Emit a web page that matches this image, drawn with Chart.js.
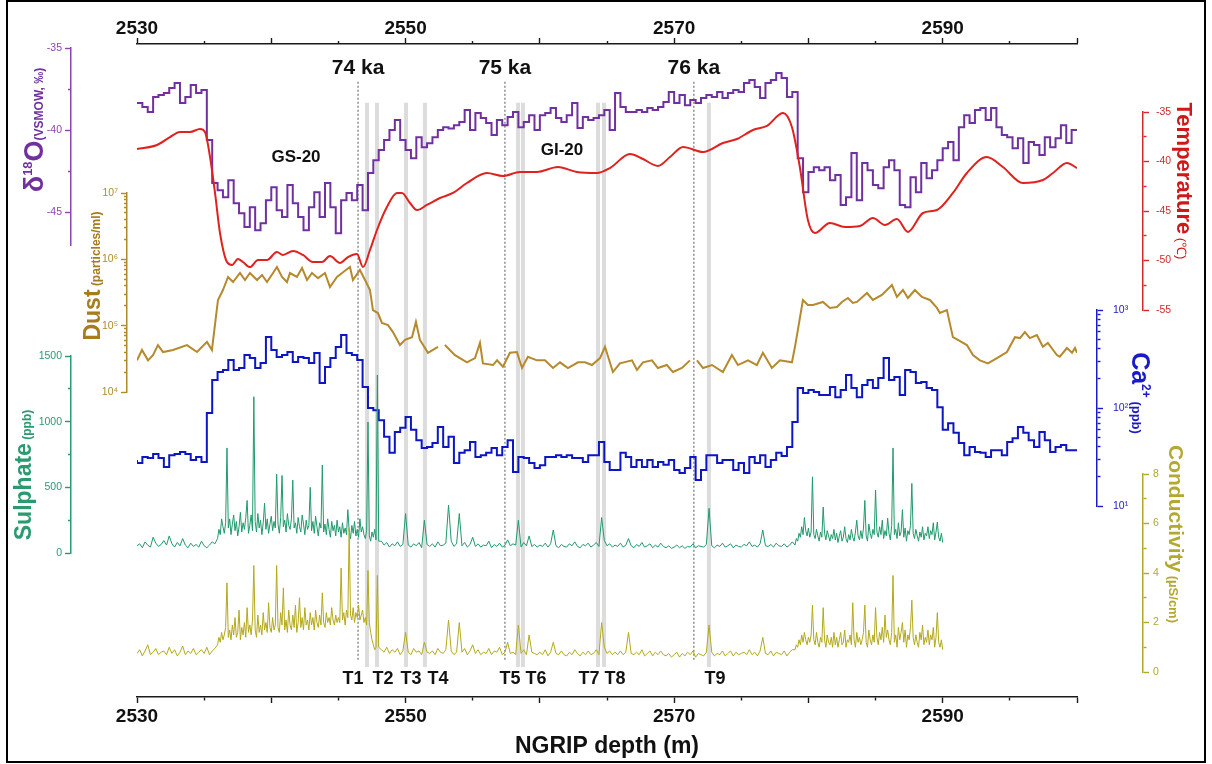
<!DOCTYPE html>
<html>
<head>
<meta charset="utf-8">
<script src="https://cdn.jsdelivr.net/npm/chart.js@4.4.1/dist/chart.umd.min.js"></script>
<style>
  html, body { margin: 0; padding: 0; background: #fff; }
  #wrap { position: relative; width: 1212px; height: 764px; overflow: hidden; background: #fff; }
  #wrap canvas { position: absolute; left: 0; top: 0; }
  #frame { position: absolute; left: 6px; top: 0; width: 1200px; height: 763px; border: 2px solid #000; box-sizing: border-box; pointer-events: none; }
</style>
</head>
<body>
<div id="wrap">
  <canvas id="base" width="1212" height="764"></canvas>
  <canvas id="pD18O" width="1212" height="764"></canvas>
  <canvas id="pTemp" width="1212" height="764"></canvas>
  <canvas id="pDust" width="1212" height="764"></canvas>
  <canvas id="pCa" width="1212" height="764"></canvas>
  <canvas id="pSulphate" width="1212" height="764"></canvas>
  <canvas id="pCond" width="1212" height="764"></canvas>
  <div id="frame"></div>
</div>
<script>
const W = 1212, H = 764;
const PLOT_L = 137, PLOT_R = 1077;
const DEPTH_MIN = 2530, DEPTH_MAX = 2600;
const FONT = "'Liberation Sans', Arial, Helvetica, sans-serif";
Chart.defaults.font.family = FONT;

// δ18O, 0.4 m samples from 2530 m
const D18O_START = 2530, D18O_STEP = 0.4;
const d18O = [
  -38.35, -38.35, -38.6, -38.9, -37.99, -37.87, -37.74, -37.44, -37.13, -38.35,
  -37.99, -37.26, -37.74, -37.56, -40.6, -43.23, -43.66, -44.09, -43.05, -44.45,
  -45.06, -45.91, -44.7, -46.1, -45.67, -44.27, -43.48, -44.88, -45.3, -43.35,
  -44.45, -45.3, -46.1, -44.7, -43.78, -45.3, -43.23, -44.7, -46.28, -44.27,
  -43.84, -44.27, -43.35, -44.88, -42.62, -41.83, -41.22, -40.61, -40.0, -39.39,
  -40.61, -41.22, -41.71, -40.43, -41.04, -40.8, -40.43, -40.0, -39.82, -39.9,
  -39.7, -39.51, -38.78, -40.0, -38.96, -39.27, -39.57, -40.3, -39.39, -39.7,
  -39.21, -38.9, -39.82, -39.51, -39.09, -40.0, -39.09, -38.96, -38.66, -39.27,
  -39.51, -39.09, -38.35, -39.88, -39.21, -39.39, -39.27, -39.09, -38.78, -40.0,
  -37.74, -38.6, -38.9, -38.9, -38.78, -38.9, -38.66, -38.78, -38.6, -38.29,
  -37.68, -38.35, -37.87, -38.48, -38.17, -38.35, -38.05, -37.87, -37.99, -37.68,
  -38.05, -37.74, -37.56, -37.68, -37.13, -36.95, -37.38, -38.05, -37.13, -36.95,
  -36.52, -36.83, -37.99, -37.68, -41.71, -43.78, -42.56, -42.26, -42.44, -42.26,
  -43.05, -42.74, -44.57, -44.09, -41.4, -44.27, -42.01, -42.44, -43.35, -43.54,
  -42.26, -41.83, -42.44, -44.57, -44.7, -42.87, -43.78, -42.01, -42.93, -42.44,
  -41.83, -41.1, -40.73, -41.83, -39.82, -39.09, -39.57, -38.78, -38.66, -39.39,
  -38.66, -39.82, -40.3, -40.43, -41.1, -40.49, -42.01, -40.73, -40.91, -41.52,
  -40.43, -41.04, -40.49, -39.7, -40.79, -40.0
];

// Ca2+ (ppb) on the same 0.4 m grid
const ca = [
  29.5, 27.5, 31.6, 30.9, 34.0, 30.9, 25.0, 33.0, 34.0, 35.6,
  34.0, 29.5, 31.6, 28.1, 89.1, 193, 233, 244, 309, 244,
  256, 347, 324, 256, 288, 530, 391, 331, 347, 373,
  295, 331, 324, 288, 364, 180, 262, 324, 419, 556,
  364, 347, 309, 164, 100, 95, 75, 51, 35, 57,
  63, 81, 60, 47, 39, 40, 44, 64, 40, 51,
  27.5, 35, 37, 45, 31.6, 33, 35, 39, 33, 40,
  47, 22.2, 31.6, 30.9, 27.5, 24.4, 26, 31.6, 31.6, 33,
  31.6, 33, 30.9, 30.9, 28.1, 33, 33, 45, 28.1, 23.3,
  23.3, 35, 31.6, 25, 29.5, 25, 29.5, 25, 28.1, 26.3,
  29.5, 23.3, 21.7, 24.4, 31.6, 18.4, 23.3, 33, 33, 27.5,
  29.5, 29.5, 23.3, 27.5, 21.7, 31.6, 27.5, 33, 25, 29.5,
  35, 32.4, 40, 72, 160, 142, 153, 146, 136, 136,
  164, 129, 153, 217, 160, 129, 172, 193, 160, 202,
  324, 193, 207, 136, 244, 233, 180, 184, 160, 153,
  102, 60, 70, 56, 44, 33, 40, 35.6, 35, 31.6,
  37, 37, 33, 45, 49, 64, 56, 47, 40, 57,
  47, 35.6, 40, 42, 37, 37
];

// Reconstructed temperature (°C)
const tempDepth = [
  2530.0, 2531.49, 2532.46, 2533.2, 2533.95, 2534.69, 2535.06, 2535.44, 2535.81, 2536.18,
  2536.7, 2537.07, 2537.52, 2537.89, 2538.41, 2539.01, 2539.68, 2540.42, 2540.87, 2541.62,
  2542.36, 2543.1, 2543.78, 2544.37, 2545.12, 2545.71, 2546.38, 2546.83, 2547.35, 2547.87,
  2548.61, 2549.36, 2549.73, 2550.33, 2550.85, 2551.59, 2552.56, 2553.53, 2554.57, 2556.06,
  2557.25, 2558.52, 2559.78, 2561.35, 2562.76, 2564.25, 2565.22, 2566.71, 2567.68, 2568.79,
  2569.69, 2570.66, 2572.15, 2573.63, 2574.68, 2575.87, 2576.91, 2578.1, 2578.77, 2579.36,
  2579.96, 2580.48, 2581.6, 2582.72, 2583.83, 2584.8, 2585.7, 2586.59, 2587.41, 2588.53,
  2589.57, 2590.76, 2591.8, 2593.29, 2594.48, 2595.97, 2597.46, 2598.21, 2599.25, 2600.0
];
const temp = [
  -38.74, -38.33, -37.53, -37.02, -37.02, -36.72, -37.02, -39.55, -43.18, -47.22,
  -50.15, -50.45, -49.85, -50.15, -50.66, -49.95, -49.95, -49.14, -49.44, -49.04,
  -49.44, -50.15, -50.15, -49.55, -50.25, -49.65, -49.34, -50.66, -48.94, -46.92,
  -44.6, -43.18, -43.18, -44.19, -44.9, -44.39, -43.69, -43.18, -42.17, -41.16,
  -41.46, -41.06, -41.06, -40.56, -41.06, -41.16, -40.66, -39.24, -39.75, -40.45,
  -39.55, -38.54, -39.04, -38.13, -37.73, -36.82, -36.41, -35.1, -36.52, -40.56,
  -45.91, -47.22, -46.21, -46.62, -46.52, -45.71, -46.41, -45.81, -47.12, -45.2,
  -44.9, -43.18, -41.16, -39.55, -40.56, -42.17, -41.87, -41.16, -40.15, -40.66
];

// Dust (particles/ml); null marks a break in the record
const dustDepth = [
  2530.0, 2530.37, 2530.82, 2531.19, 2531.56, 2531.94, 2532.68, 2533.72, 2534.47, 2535.21,
  2535.58, 2536.03, 2536.4, 2536.78, 2537.15, 2537.67, 2538.04, 2538.41, 2538.94, 2539.31,
  2539.68, 2540.13, 2540.42, 2540.8, 2541.17, 2541.39, 2541.91, 2542.29, 2542.66, 2543.03,
  2543.48, 2544.0, 2544.37, 2544.89, 2545.34, 2545.86, 2546.08, 2546.6, 2546.98, 2547.35,
  2547.57, 2547.94, 2548.24, 2548.69, 2549.06, 2549.58, 2549.96, 2550.48, 2550.77, 2551.07,
  2551.67, 2552.41, 2552.6, 2552.93, 2553.68, 2554.57, 2555.17, 2555.54, 2555.76, 2556.51,
  2556.81, 2557.25, 2557.77, 2558.29, 2558.67, 2559.11, 2559.78, 2560.38, 2560.98, 2561.5,
  2562.09, 2562.84, 2563.36, 2563.88, 2564.48, 2564.85, 2565.44, 2565.96, 2566.86, 2567.23,
  2567.68, 2568.35, 2568.79, 2569.46, 2569.91, 2570.58, 2571.18, 2571.4, 2571.7, 2572.15,
  2572.82, 2573.63, 2574.3, 2574.75, 2575.5, 2576.16, 2576.61, 2577.28, 2577.88, 2578.77,
  2579.0, 2579.59, 2579.96, 2580.34, 2581.08, 2581.6, 2582.12, 2582.5, 2582.94, 2583.31,
  2583.61, 2584.36, 2584.8, 2585.47, 2586.22, 2586.59, 2587.04, 2587.41, 2587.93, 2588.45,
  2589.05, 2589.57, 2589.79, 2590.31, 2590.76, 2591.13, 2591.8, 2592.25, 2592.77, 2593.37,
  2594.04, 2594.78, 2595.38, 2595.75, 2596.12, 2596.49, 2597.01, 2597.46, 2597.83, 2598.5,
  2598.72, 2599.25, 2599.63, 2599.85, 2600.0
];
const dust = [
  3.0e4, 4.3e4, 3.0e4, 3.6e4, 5.1e4, 4.0e4, 4.3e4, 5.1e4, 4.0e4, 5.7e4,
  4.3e4, 2.44e5, 3.45e5, 5.42e5, 4.55e5, 6.22e5, 4.88e5, 6.22e5, 4.88e5, 5.8e5,
  4.55e5, 6.22e5, 7.65e5, 5.42e5, 4.55e5, 6.22e5, 5.42e5, 7.4e5, 4.88e5, 6.22e5,
  5.2e5, 6.22e5, 3.83e5, 5.42e5, 6.4e5, 7.65e5, 4.88e5, 6.9e5, 4.88e5, 3.45e5,
  1.72e5, 1.55e5, 1.1e5, 1.02e5, 8.0e4, 5.1e4, 6.1e4, 6.7e4, 1.14e5, 6.1e4,
  3.9e4, 4.8e4, null, 5.1e4, 3.6e4, 2.8e4, 3.25e4, 5.5e4, 2.7e4, 2.55e4,
  3.0e4, 2.4e4, 3.9e4, 4.0e4, 2.3e4, 3.4e4, 3.0e4, 3.0e4, 2.3e4, 2.8e4,
  2.3e4, 2.8e4, 2.8e4, 2.55e4, 3.25e4, 4.8e4, 2.0e4, 2.7e4, 3.0e4, 2.15e4,
  2.8e4, 3.0e4, 2.3e4, 2.55e4, 2.0e4, 2.3e4, 3.0e4, null, 3.0e4, 2.3e4,
  2.55e4, 2.0e4, 3.6e4, 2.55e4, 3.0e4, 2.55e4, 3.9e4, 2.3e4, 3.0e4, 2.8e4,
  4.8e4, 2.44e5, 2.05e5, 2.05e5, 2.28e5, 1.85e5, 1.91e5, 2.28e5, 2.61e5, 2.2e5,
  2.28e5, 3.11e5, 2.44e5, 2.9e5, 4.1e5, 2.71e5, 3.45e5, 2.61e5, 3.45e5, 2.71e5,
  2.44e5, 1.85e5, 1.55e5, 1.72e5, 6.7e4, 6.1e4, 5.1e4, 3.6e4, 3.0e4, 2.7e4,
  3.25e4, 4.0e4, 6.7e4, 6.5e4, 8.0e4, 6.5e4, 7.2e4, 4.8e4, 5.5e4, 3.6e4,
  3.4e4, 4.6e4, 3.9e4, 4.6e4, 3.9e4
];

// CFA sulphate (ppb) and conductivity (µS/cm), 2530–2590 m.
// Stadial sections were measured at 0.1 m, the rest at 0.2 m.
const cfaSections = [
  {start: 2530, step: 0.2},
  {start: 2536, step: 0.1},
  {start: 2548, step: 0.2},
  {start: 2579, step: 0.1}
];
const sulphateA = [
  55, 70, 40, 85, 60, 45, 120, 75, 50, 65,
  95, 60, 130, 70, 45, 80, 55, 110, 60, 40,
  75, 50, 65, 45, 90, 55, 40, 60, 85, 70
];
const sulphateB = [
  110, 180, 140, 260, 200, 150, 230, 800, 190, 260,
  140, 220, 290, 170, 240, 130, 200, 310, 160, 230,
  180, 270, 400, 150, 210, 290, 170, 1190, 240, 160,
  300, 190, 250, 140, 230, 380, 180, 260, 150, 220,
  280, 170, 240, 190, 600, 220, 150, 270, 590, 200,
  250, 160, 300, 210, 180, 260, 555, 190, 230, 150,
  270, 200, 160, 290, 220, 140, 250, 180, 210, 500,
  170, 240, 150, 280, 200, 130, 230, 190, 670, 160,
  220, 140, 260, 180, 120, 240, 170, 210, 130, 250,
  160, 200, 120, 230, 150, 190, 140, 330, 170, 110,
  210, 150, 240, 130, 180, 120, 260, 160, 200, 140,
  110, 170, 997, 130, 90, 160, 120, 180, 100, 1355
];
const sulphateC = [
  90, 90, 60, 80, 45, 70, 55, 85, 50, 65,
  300, 60, 45, 70, 55, 80, 40, 250, 65, 50,
  70, 45, 85, 55, 60, 75, 365, 90, 50, 70,
  300, 55, 80, 45, 65, 120, 50, 70, 45, 60,
  55, 90, 40, 65, 50, 75, 45, 60, 100, 55,
  70, 60, 250, 45, 80, 55, 130, 50, 65, 45,
  60, 50, 75, 45, 70, 175, 55, 40, 65, 50,
  45, 70, 55, 85, 50, 40, 65, 55, 75, 45,
  60, 80, 50, 270, 95, 55, 70, 45, 60, 50,
  75, 45, 60, 110, 55, 40, 65, 50, 80, 45,
  55, 70, 40, 60, 45, 75, 50, 40, 55, 35,
  45, 60, 40, 55, 35, 50, 45, 70, 40, 55,
  50, 45, 65, 340, 55, 40, 60, 50, 75, 45,
  55, 70, 40, 60, 50, 45, 65, 55, 85, 50,
  60, 45, 70, 175, 55, 50, 65, 45, 75, 55,
  50, 70, 45, 60, 85
];
const sulphateD = [
  60, 110, 90, 150, 120, 200, 140, 270, 170, 130,
  190, 120, 160, 580, 140, 110, 180, 130, 90, 160,
  120, 350, 150, 100, 170, 130, 90, 140, 110, 180,
  100, 150, 80, 130, 170, 90, 120, 200, 110, 80,
  140, 100, 180, 120, 90, 160, 250, 130, 100, 170,
  110, 190, 400, 130, 90, 220, 150, 110, 180, 140,
  480, 160, 120, 200, 140, 250, 110, 170, 130, 265,
  150, 100, 210, 800, 140, 180, 110, 230, 130, 160,
  330, 120, 190, 90, 170, 140, 210, 530, 150, 110,
  180, 130, 90, 160, 120, 200, 100, 150, 130, 200,
  110, 170, 140, 230, 100, 160, 235, 120, 90, 150,
  80
];
const condA = [
  0.75, 0.9, 0.65, 0.85, 1.1, 0.7, 0.8, 0.95, 0.7, 0.8,
  0.85, 0.7, 1.0, 0.75, 0.9, 0.65, 0.8, 1.05, 0.7, 0.85,
  0.75, 0.95, 0.7, 0.8, 0.9, 0.75, 1.0, 0.7, 0.85, 0.95
];
const condB = [
  1.1, 1.4, 1.2, 1.6, 1.3, 1.5, 1.8, 3.6, 1.4, 1.7,
  1.3, 1.9, 1.5, 2.2, 1.4, 1.6, 2.5, 1.3, 1.8, 1.5,
  2.0, 1.4, 2.6, 1.6, 1.9, 1.5, 2.1, 4.3, 1.7, 1.4,
  2.3, 1.6, 1.9, 1.5, 2.4, 1.7, 2.0, 1.6, 2.8, 1.8,
  1.6, 2.2, 1.7, 1.9, 4.3, 1.8, 1.6, 2.4, 1.9, 3.4,
  1.7, 2.1, 1.6, 2.5, 1.9, 1.7, 2.3, 1.8, 2.7, 1.6,
  2.0, 3.0, 1.8, 2.2, 1.7, 2.6, 1.9, 2.1, 1.7, 2.4,
  1.9, 2.2, 1.7, 2.5, 2.0, 1.8, 2.3, 1.9, 3.2, 2.0,
  1.8, 2.4, 2.0, 2.2, 1.9, 2.6, 2.1, 1.9, 2.3, 2.0,
  2.2, 2.0, 4.2, 2.1, 2.4, 1.9, 2.5, 2.2, 5.8, 2.3,
  2.1, 2.6, 2.0, 2.4, 2.2, 2.7, 2.1, 2.3, 2.5, 2.0,
  2.2, 1.9, 4.1, 2.0, 1.6, 1.3, 1.1, 0.9, 1.0, 3.9
];
const condC = [
  1.0, 0.9, 0.8, 1.0, 0.75, 0.9, 0.8, 0.95, 0.7, 0.85,
  1.6, 0.8, 0.7, 0.95, 0.8, 0.85, 0.7, 1.2, 0.8, 0.75,
  0.85, 0.7, 0.95, 0.8, 0.75, 0.9, 2.1, 0.85, 0.7, 0.8,
  2.0, 0.8, 0.95, 0.7, 0.85, 1.1, 0.75, 0.9, 0.7, 0.8,
  0.75, 0.95, 0.7, 0.85, 0.8, 1.0, 0.7, 0.8, 1.2, 0.75,
  0.8, 0.7, 1.9, 0.75, 0.9, 0.7, 1.5, 0.8, 0.75, 0.7,
  0.8, 0.7, 0.9, 0.65, 0.8, 1.2, 0.75, 0.7, 0.85, 0.7,
  0.65, 0.8, 0.7, 0.9, 0.75, 0.65, 0.8, 0.7, 0.85, 0.7,
  0.75, 0.9, 0.7, 2.0, 1.0, 0.75, 0.85, 0.7, 0.8, 0.7,
  0.85, 0.7, 0.8, 1.6, 0.75, 0.7, 0.8, 0.7, 0.9, 0.65,
  0.75, 0.85, 0.65, 0.8, 0.7, 0.85, 0.7, 0.65, 0.75, 0.6,
  0.7, 0.8, 0.6, 0.75, 0.65, 0.8, 0.7, 0.85, 0.6, 0.75,
  0.7, 0.65, 0.8, 1.9, 0.8, 0.65, 0.75, 0.7, 0.85, 0.65,
  0.75, 0.85, 0.65, 0.8, 0.7, 0.75, 0.8, 0.7, 0.9, 0.7,
  0.8, 0.65, 0.85, 1.4, 0.75, 0.7, 0.85, 0.65, 0.8, 0.75,
  0.7, 0.85, 0.65, 0.8, 0.9
];
const condD = [
  0.9, 1.1, 1.0, 1.3, 1.1, 1.5, 1.2, 1.6, 1.3, 1.1,
  1.4, 1.2, 1.5, 2.7, 1.3, 1.1, 1.6, 1.2, 1.0, 1.4,
  1.2, 2.6, 1.3, 1.0, 1.5, 1.2, 1.1, 1.4, 1.0, 1.6,
  1.1, 1.4, 1.0, 1.3, 1.6, 1.1, 1.2, 1.7, 1.0, 1.3,
  1.2, 1.5, 1.1, 2.8, 1.3, 1.0, 1.6, 1.2, 1.4, 1.1,
  1.3, 1.6, 2.7, 1.2, 1.0, 1.7, 1.3, 1.1, 1.5, 1.2,
  2.6, 1.4, 1.1, 1.6, 1.3, 1.8, 1.2, 2.3, 1.4, 1.7,
  1.3, 1.1, 1.6, 3.9, 1.2, 1.5, 1.0, 1.8, 1.3, 1.6,
  2.0, 1.2, 1.7, 1.0, 1.5, 1.3, 1.8, 2.9, 1.4, 1.1,
  1.5, 1.2, 1.0, 1.6, 1.3, 1.9, 1.1, 1.4, 1.2, 1.7,
  1.1, 1.5, 1.3, 1.8, 1.0, 1.4, 2.4, 1.2, 1.0, 1.3,
  0.9
];

// tie points, age markers and stage names
const tieDepths = [2547.13, 2547.87, 2550.03, 2551.44, 2558.37, 2558.74, 2564.33, 2564.78, 2572.59];
const tieLabels = ['T1', 'T2', 'T3', 'T4', 'T5', 'T6', 'T7', 'T8', 'T9'];
const tieLabelDepths = [2546.08, 2548.32, 2550.4, 2552.41, 2557.77, 2559.71, 2563.66, 2565.59, 2573.04];
const ageDepths = [2546.46, 2557.4, 2571.47];
const ageLabels = ['74 ka', '75 ka', '76 ka'];
const stageLabels = ['GS-20', 'GI-20'];
const stageDepths = [2541.84, 2561.65];

// axis ticks
const depthTicks = [2530, 2535, 2540, 2545, 2550, 2555, 2560, 2565, 2570, 2575, 2580, 2585, 2590, 2595, 2600];
const depthLabels = [2530, 2550, 2570, 2590];
const d18OTicks = [-35, -37.5, -40, -42.5, -45];
const tempTicks = [-35, -37.5, -40, -42.5, -45, -47.5, -50, -52.5, -55];
const sulphateTicks = [0, 250, 500, 750, 1000, 1250, 1500];
const condTicks = [0, 1, 2, 3, 4, 5, 6, 7, 8];
const logTicks = (lo, hi) => {
  const t = [];
  for (let e = lo; e < hi; e++) for (let m = 1; m < 10; m++) t.push(m * Math.pow(10, e));
  t.push(Math.pow(10, hi));
  return t;
};
const dustTicks = logTicks(4, 7);
const caTicks = logTicks(1, 3);
const SUP = {'1': '¹', '2': '²', '3': '³', '4': '⁴', '5': '⁵', '6': '⁶', '7': '⁷'};
const decadeLabel = v => {
  const e = Math.round(Math.log10(v));
  return Math.abs(v - Math.pow(10, e)) < 1e-6 * v ? '10' + SUP[e] : '';
};

const onGrid = (vals, start, step) => vals.map((v, i) => ({x: +(start + i * step).toFixed(2), y: v}));
const paired = (xs, ys) => xs.map((x, i) => ({x, y: ys[i]}));
const joinSections = parts => parts.flatMap((vals, i) => onGrid(vals, cfaSections[i].start, cfaSections[i].step));

// ticks: major ones full length, minor ones shortened with a dash pattern
const MAJ = 6, MIN = 3;
function tickMarks(color, isMajor, outerFirst) {
  const minor = c => c.tick && !isMajor(c.tick.value);
  return {
    display: true, drawOnChartArea: false, drawTicks: true,
    tickLength: MAJ, tickWidth: 1.4, tickColor: color,
    tickBorderDash: c => minor(c) ? [MIN, 100] : [],
    tickBorderDashOffset: c => (minor(c) && outerFirst) ? 100 + 2 * MIN - MAJ : 0
  };
}

function spacer(side, width) {
  return {
    type: 'linear', axis: 'y', position: side, weight: 1,
    grid: {display: false}, border: {display: false}, ticks: {display: false},
    afterFit: s => { s.width = width; }
  };
}

// rotated axis captions made of several runs (size, superscripts)
const sideTitle = {
  id: 'sideTitle',
  afterDraw(chart, args, o) {
    if (!o || !o.runs) return;
    const ctx = chart.ctx;
    ctx.save();
    ctx.fillStyle = o.color;
    ctx.textBaseline = 'alphabetic';
    ctx.textAlign = 'left';
    let total = 0;
    const widths = o.runs.map(r => {
      ctx.font = r.font + ' ' + FONT;
      const w = ctx.measureText(r.text).width;
      total += w;
      return w;
    });
    ctx.translate(o.x, o.y);
    ctx.rotate(o.angle * Math.PI / 180);
    let pos = -total / 2;
    o.runs.forEach((r, i) => {
      ctx.font = r.font + ' ' + FONT;
      ctx.fillText(r.text, pos, -(r.rise || 0));
      pos += widths[i];
    });
    ctx.restore();
  }
};

function panel(id, o) {
  const left = o.side === 'left';
  const scales = {
    x: {type: 'linear', min: DEPTH_MIN, max: DEPTH_MAX, display: false},
    y: {
      type: o.type, position: o.side, weight: 2, min: o.min, max: o.max,
      afterBuildTicks: s => { s.ticks = o.ticks.map(v => ({value: v})); },
      afterFit: s => { s.width = left ? o.axisX : W - o.axisX; },
      border: {display: true, color: o.axisColor, width: 1.5},
      grid: tickMarks(o.axisColor, o.isMajor, left),
      ticks: {
        autoSkip: false, maxRotation: 0, padding: o.pad, color: o.axisColor,
        font: {size: 10.5}, callback: v => o.label(v)
      }
    }
  };
  if (left) {
    scales.sl = spacer('left', PLOT_L - o.axisX);
    scales.sr = spacer('right', W - PLOT_R);
  } else {
    scales.sl = spacer('left', PLOT_L);
    scales.sr = spacer('right', o.axisX - PLOT_R);
  }
  return new Chart(document.getElementById(id), {
    type: 'line',
    data: {datasets: o.datasets},
    options: {
      animation: false, responsive: false, devicePixelRatio: 1,
      layout: {padding: {left: 0, right: 0, top: o.top, bottom: H - o.bottom}},
      scales,
      plugins: {legend: {display: false}, tooltip: {enabled: false}, sideTitle: o.title}
    },
    plugins: [sideTitle]
  });
}

const line = (data, color, width, extra) => Object.assign({
  data, borderColor: color, borderWidth: width, pointRadius: 0, fill: false, spanGaps: false
}, extra || {});

// frame: depth axes, tie-point bands, age markers
const BAND_TOP = 0.91, BAND_BOTTOM = 0.046, AGE_TOP = 0.945, AGE_BOTTOM = 0.057;
const frameText = {
  id: 'frameText',
  afterDatasetsDraw(chart) {
    const {ctx, scales: {x}} = chart;
    ctx.save();
    ctx.fillStyle = '#111';
    ctx.textAlign = 'center';
    ctx.textBaseline = 'middle';
    ctx.font = 'bold 21px ' + FONT;
    ageLabels.forEach((t, i) => ctx.fillText(t, x.getPixelForValue(ageDepths[i]), 68));
    ctx.font = 'bold 18px ' + FONT;
    tieLabels.forEach((t, i) => ctx.fillText(t, x.getPixelForValue(tieLabelDepths[i]), 679));
    ctx.font = 'bold 17px ' + FONT;
    const stageY = [157, 150];
    stageLabels.forEach((t, i) => ctx.fillText(t, x.getPixelForValue(stageDepths[i]), stageY[i]));
    ctx.restore();
  }
};

function depthAxis(position, height) {
  const top = position === 'top';
  return {
    type: 'linear', axis: 'x', position, min: DEPTH_MIN, max: DEPTH_MAX,
    afterBuildTicks: s => { s.ticks = depthTicks.map(v => ({value: v})); },
    afterFit: s => { s.height = height; },
    border: {display: true, color: '#1a1a1a', width: 1.5},
    grid: tickMarks('#1a1a1a', v => v % 10 === 0, top),
    ticks: {
      autoSkip: false, maxRotation: 0, padding: top ? -2 : 2, color: '#111',
      font: {size: 19, weight: 'bold'},
      callback: v => depthLabels.includes(v) ? String(v) : ''
    },
    title: top ? {display: false} : {
      display: true, text: 'NGRIP depth (m)', color: '#111',
      font: {size: 23, weight: 'bold'}, padding: {top: 0, bottom: 4}
    }
  };
}

const frameSets = [];
tieDepths.forEach(d => frameSets.push(line([{x: d, y: BAND_BOTTOM}, {x: d, y: BAND_TOP}], '#dcdcdc', 4)));
ageDepths.forEach(d => frameSets.push(line([{x: d, y: AGE_BOTTOM}, {x: d, y: AGE_TOP}], '#555', 1, {borderDash: [2, 2]})));

new Chart(document.getElementById('base'), {
  type: 'line',
  data: {datasets: frameSets},
  options: {
    animation: false, responsive: false, devicePixelRatio: 1,
    layout: {padding: {left: PLOT_L, right: W - PLOT_R, top: 0, bottom: 0}},
    scales: {
      x: depthAxis('bottom', 67),
      xTop: depthAxis('top', 44),
      y: {type: 'linear', min: 0, max: 1, display: false}
    },
    plugins: {legend: {display: false}, tooltip: {enabled: false}}
  },
  plugins: [frameText]
});

const everyFive = v => Math.abs(v % 5) < 1e-9;
const isDecade = v => decadeLabel(v) !== '';

panel('pD18O', {
  side: 'left', axisX: 71, top: 48, bottom: 245, type: 'linear', min: -47, max: -35,
  ticks: d18OTicks, isMajor: everyFive, label: v => everyFive(v) ? String(v) : '',
  axisColor: '#8b45ad', pad: 3,
  datasets: [line(onGrid(d18O, D18O_START, D18O_STEP), '#7030a0', 2, {stepped: 'after'})],
  title: {x: 43, y: 130, angle: -90, color: '#7030a0', runs: [
    {text: 'δ', font: 'bold 27px'}, {text: '18', font: 'bold 13px', rise: 11},
    {text: 'O', font: 'bold 27px'}, {text: '(VSMOW, ‰)', font: 'bold 12px'}
  ]}
});

panel('pTemp', {
  side: 'right', axisX: 1143, top: 112, bottom: 310, type: 'linear', min: -55, max: -35,
  ticks: tempTicks, isMajor: everyFive, label: v => everyFive(v) ? String(v) : '',
  axisColor: '#d42a2a', pad: 7,
  datasets: [line(paired(tempDepth, temp), '#e0211d', 2, {cubicInterpolationMode: 'monotone'})],
  title: {x: 1177, y: 181, angle: 90, color: '#d01818', runs: [
    {text: 'Temperature', font: 'bold 22px'}, {text: ' (℃)', font: '13px'}
  ]}
});

panel('pDust', {
  side: 'left', axisX: 127, top: 193, bottom: 392, type: 'logarithmic', min: 1e4, max: 1e7,
  ticks: dustTicks, isMajor: isDecade, label: decadeLabel,
  axisColor: '#b08a2a', pad: 3,
  datasets: [line(paired(dustDepth, dust), '#b5892c', 2)],
  title: {x: 100, y: 276, angle: -90, color: '#a67c1c', runs: [
    {text: 'Dust', font: 'bold 23px'}, {text: ' (particles/ml)', font: 'bold 12px'}
  ]}
});

panel('pCa', {
  side: 'right', axisX: 1097, top: 310, bottom: 506, type: 'logarithmic', min: 10, max: 1000,
  ticks: caTicks, isMajor: isDecade, label: decadeLabel,
  axisColor: '#1a1ac8', pad: 10,
  datasets: [line(onGrid(ca, D18O_START, D18O_STEP), '#0d16c4', 2, {stepped: 'after'})],
  title: {x: 1132, y: 393, angle: 90, color: '#1a1ac8', runs: [
    {text: 'Ca', font: 'bold 25px'}, {text: '2+', font: 'bold 12px', rise: 10},
    {text: ' (ppb)', font: 'bold 13px'}
  ]}
});

panel('pSulphate', {
  side: 'left', axisX: 71, top: 356, bottom: 553, type: 'linear', min: 0, max: 1500,
  ticks: sulphateTicks, isMajor: v => v % 500 === 0, label: v => v % 500 === 0 ? String(v) : '',
  axisColor: '#2a9a70', pad: 3,
  datasets: [line(joinSections([sulphateA, sulphateB, sulphateC, sulphateD]), '#1f9a6c', 1)],
  title: {x: 31, y: 475, angle: -90, color: '#2a9a70', runs: [
    {text: 'Sulphate', font: 'bold 23px'}, {text: ' (ppb)', font: 'bold 12px'}
  ]}
});

panel('pCond', {
  side: 'right', axisX: 1143, top: 474, bottom: 672, type: 'linear', min: 0, max: 8,
  ticks: condTicks, isMajor: v => v % 2 === 0, label: v => v % 2 === 0 ? String(v) : '',
  axisColor: '#b0a82c', pad: 4,
  datasets: [line(joinSections([condA, condB, condC, condD]), '#b3a91a', 1)],
  title: {x: 1169, y: 534, angle: 90, color: '#b3a930', runs: [
    {text: 'Conductivity', font: 'bold 21px'}, {text: ' (µS/cm)', font: 'bold 13px'}
  ]}
});
</script>
</body>
</html>
